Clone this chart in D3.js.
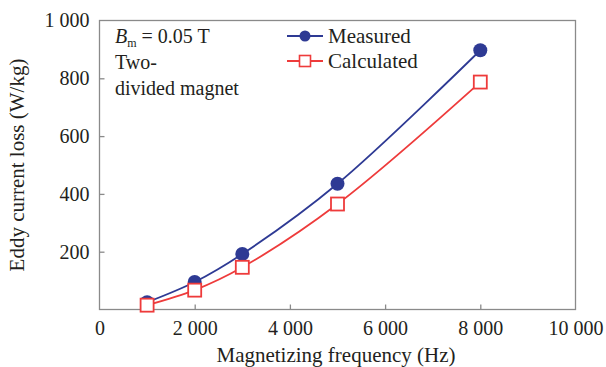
<!DOCTYPE html>
<html><head><meta charset="utf-8">
<script src="https://cdn.jsdelivr.net/npm/d3@7"></script>
<style>body{margin:0;background:#fff}svg{display:block}</style>
</head><body><svg id="c" width="606" height="367"></svg>
<script>
const freqs = [1000, 2000, 3000, 5000, 8000];
const measured = [25, 95, 192, 435, 897];
const calculated = [15, 67, 146, 365, 787];
const xTicks = [0, 2000, 4000, 6000, 8000, 10000];
const yTicks = [200, 400, 600, 800, 1000];
const seriesNames = ["Measured", "Calculated"];

const FONT = "Liberation Serif";
const svg = d3.select("#c");
const L = 99.5, R = 575.5, T = 20.5, B = 309.5;
const x = d3.scaleLinear().domain([0, 10000]).range([L, R]);
const y = d3.scaleLinear().domain([0, 1000]).range([B, T]);
const fmt = v => { const s = String(v); return s.length > 3 ? s.slice(0, s.length - 3) + " " + s.slice(-3) : s; };
const axisCol = "#8a8a8a";
const ink = "#231f20";
const txt = (sel, size) => sel.attr("font-family", FONT).attr("font-size", size).attr("fill", ink);

svg.append("rect").attr("x", L).attr("y", T).attr("width", R - L).attr("height", B - T)
  .attr("fill", "none").attr("stroke", axisCol).attr("stroke-width", 1.3);

const gx = svg.append("g").attr("transform", `translate(0,${B})`)
  .call(d3.axisBottom(x).tickValues(xTicks).tickSize(-5).tickPadding(11).tickFormat(fmt));
const gy = svg.append("g").attr("transform", `translate(${L},0)`)
  .call(d3.axisLeft(y).tickValues(yTicks).tickSize(-5).tickPadding(10).tickFormat(fmt));
[gx, gy].forEach(g => {
  g.attr("font-family", FONT).attr("font-size", 20);
  g.select(".domain").remove();
  g.selectAll(".tick line").attr("stroke", axisCol).attr("stroke-width", 1.3);
  g.selectAll(".tick text").attr("fill", ink);
});
gx.selectAll(".tick line").filter(d => d === 0 || d === 10000).remove();
gy.selectAll(".tick line").filter(d => d === 1000).remove();

txt(svg.append("text").attr("x", 336).attr("y", 362).attr("text-anchor", "middle"), 21)
  .text("Magnetizing frequency (Hz)");
txt(svg.append("text").attr("transform", `translate(24,${(T + B) / 2}) rotate(-90)`)
  .attr("text-anchor", "middle"), 21).text("Eddy current loss (W/kg)");

const ann = txt(svg.append("text").attr("x", 115).attr("y", 43), 20);
ann.append("tspan").attr("font-style", "italic").text("B");
ann.append("tspan").attr("font-size", 12).attr("dy", 4).text("m");
ann.append("tspan").attr("dy", -4).text(" = 0.05 T");
txt(svg.append("text").attr("x", 115).attr("y", 69), 20).text("Two-");
txt(svg.append("text").attr("x", 115).attr("y", 95), 20).text("divided magnet");

const blue = "#2e3a94", red = "#ee3b3b";
const line = d3.line().x(d => x(d[0])).y(d => y(d[1])).curve(d3.curveCatmullRom.alpha(0.5));
const mData = freqs.map((f, i) => [f, measured[i]]);
const cData = freqs.map((f, i) => [f, calculated[i]]);

svg.append("path").attr("d", line(mData)).attr("fill", "none").attr("stroke", blue).attr("stroke-width", 1.8);
svg.append("path").attr("d", line(cData)).attr("fill", "none").attr("stroke", red).attr("stroke-width", 1.8);
svg.selectAll(".m").data(mData).enter().append("circle")
  .attr("cx", d => x(d[0])).attr("cy", d => y(d[1])).attr("r", 7).attr("fill", blue);
svg.selectAll(".s").data(cData).enter().append("rect")
  .attr("x", d => x(d[0]) - 6.5).attr("y", d => y(d[1]) - 6.5).attr("width", 13).attr("height", 13)
  .attr("fill", "#fff").attr("stroke", red).attr("stroke-width", 1.8);

const lg = svg.append("g");
[0, 1].forEach(i => {
  const yy = 36 + i * 25, col = i === 0 ? blue : red;
  lg.append("line").attr("x1", 287).attr("x2", 323).attr("y1", yy).attr("y2", yy).attr("stroke", col).attr("stroke-width", 1.8);
  if (i === 0) lg.append("circle").attr("cx", 305).attr("cy", yy).attr("r", 5.5).attr("fill", blue);
  else lg.append("rect").attr("x", 299.5).attr("y", yy - 5.5).attr("width", 11).attr("height", 11)
    .attr("fill", "#fff").attr("stroke", red).attr("stroke-width", 1.6);
  txt(lg.append("text").attr("x", 328).attr("y", yy + 6.5), 21).text(seriesNames[i]);
});
</script></body></html>
